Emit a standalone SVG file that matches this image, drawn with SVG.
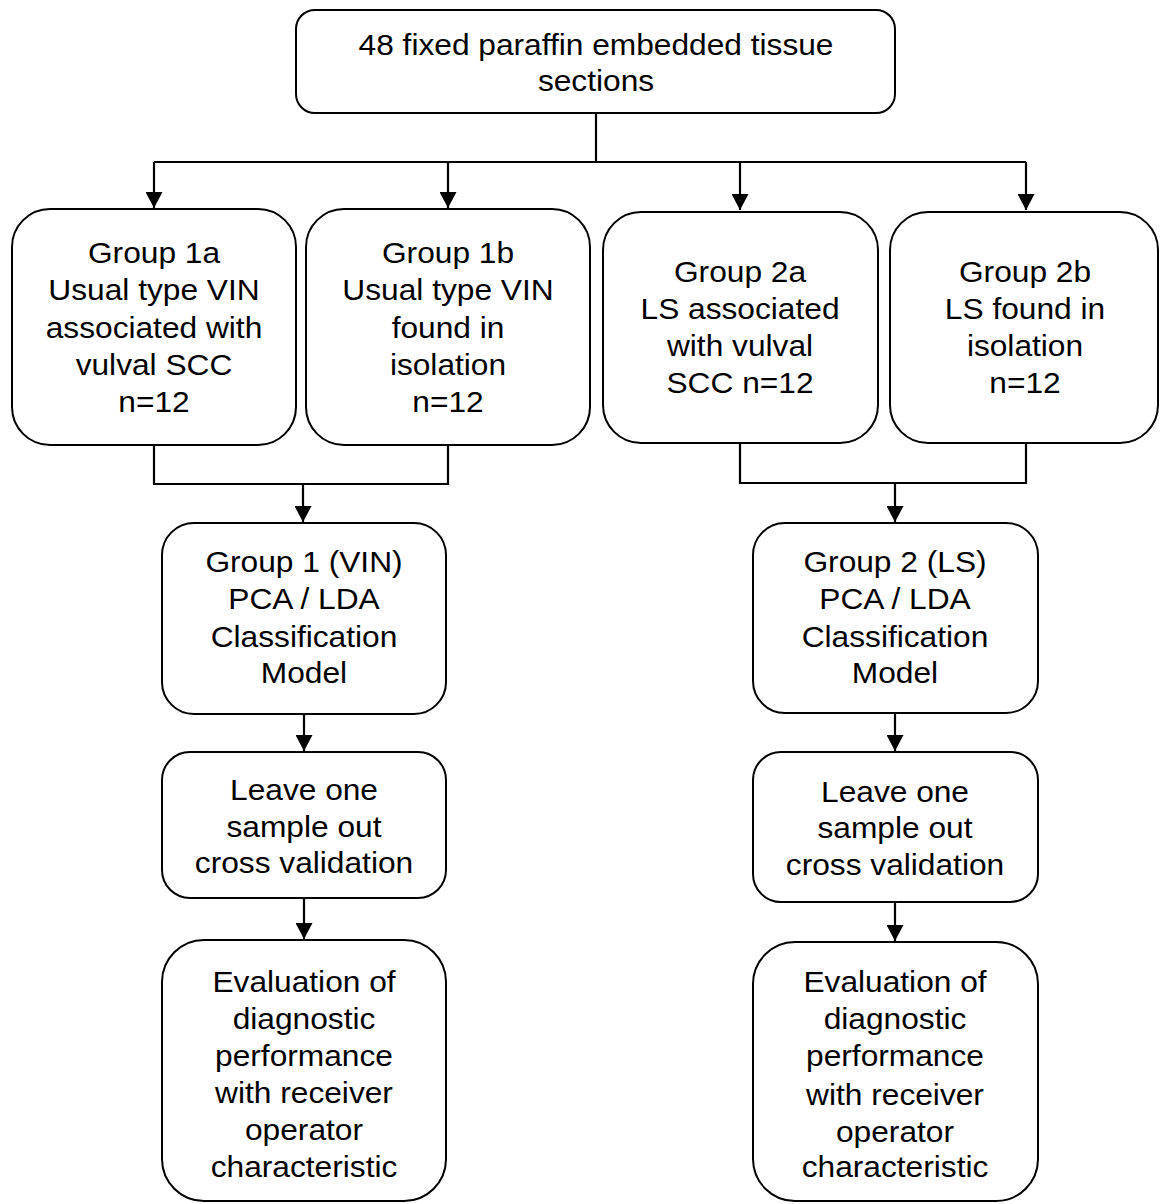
<svg xmlns="http://www.w3.org/2000/svg" width="1161" height="1204" viewBox="0 0 1161 1204">
<style>
.box{fill:#fff;stroke:#000;stroke-width:2}
.t{font-family:"Liberation Sans",Arial,sans-serif;font-size:31.7px;fill:#000;text-anchor:middle}
.c{fill:none;stroke:#000;stroke-width:2.2}
</style>
<defs>
<marker id="arr" markerUnits="userSpaceOnUse" markerWidth="17" markerHeight="17" viewBox="0 0 17 17" refX="16" refY="8.5" orient="auto">
<path d="M0,0 L16,8.5 L0,17 Z" fill="#000"/>
</marker>
</defs>
<rect width="1161" height="1204" fill="#fff"/>
<g id="connectors">
<path class="c" d="M596,113 V162"/>
<path class="c" d="M154,162 H1026"/>
<path class="c" d="M154,162 V208" marker-end="url(#arr)"/>
<path class="c" d="M448,162 V208" marker-end="url(#arr)"/>
<path class="c" d="M740,162 V210" marker-end="url(#arr)"/>
<path class="c" d="M1026,162 V210" marker-end="url(#arr)"/>
<path class="c" d="M154,445 V484 H448 V445"/>
<path class="c" d="M303,484 V522" marker-end="url(#arr)"/>
<path class="c" d="M740,443 V483 H1026 V443"/>
<path class="c" d="M895,483 V522" marker-end="url(#arr)"/>
<path class="c" d="M304,714 V751" marker-end="url(#arr)"/>
<path class="c" d="M895,713 V751" marker-end="url(#arr)"/>
<path class="c" d="M304,898 V939" marker-end="url(#arr)"/>
<path class="c" d="M895,902 V941" marker-end="url(#arr)"/>
</g>
<g id="top">
<rect class="box" x="296" y="10" width="599" height="103" rx="19"/>
<text class="t" transform="translate(596,0) scale(1,0.92)"><tspan x="0" y="59.8">48 fixed paraffin embedded tissue</tspan><tspan x="0" y="98.9">sections</tspan></text>
</g>
<g id="g1a">
<rect class="box" x="12" y="209" width="284" height="236" rx="38"/>
<text class="t" transform="translate(154,0) scale(1,0.92)"><tspan x="0" y="285.9">Group 1a</tspan><tspan x="0" y="326.1">Usual type VIN</tspan><tspan x="0" y="367.4">associated with</tspan><tspan x="0" y="407.6">vulval SCC</tspan><tspan x="0" y="447.8">n=12</tspan></text>
</g>
<g id="g1b">
<rect class="box" x="306" y="209" width="284" height="236" rx="38"/>
<text class="t" transform="translate(448,0) scale(1,0.92)"><tspan x="0" y="285.9">Group 1b</tspan><tspan x="0" y="326.1">Usual type VIN</tspan><tspan x="0" y="367.4">found in</tspan><tspan x="0" y="407.6">isolation</tspan><tspan x="0" y="447.8">n=12</tspan></text>
</g>
<g id="g2a">
<rect class="box" x="603" y="212" width="275" height="231" rx="38"/>
<text class="t" transform="translate(740,0) scale(1,0.92)"><tspan x="0" y="306.5">Group 2a</tspan><tspan x="0" y="346.7">LS associated</tspan><tspan x="0" y="387">with vulval</tspan><tspan x="0" y="427.2">SCC n=12</tspan></text>
</g>
<g id="g2b">
<rect class="box" x="890" y="212" width="268" height="231" rx="38"/>
<text class="t" transform="translate(1025,0) scale(1,0.92)"><tspan x="0" y="306.5">Group 2b</tspan><tspan x="0" y="346.7">LS found in</tspan><tspan x="0" y="387">isolation</tspan><tspan x="0" y="427.2">n=12</tspan></text>
</g>
<g id="g1model">
<rect class="box" x="162" y="523" width="284" height="191" rx="32"/>
<text class="t" transform="translate(304,0) scale(1,0.92)"><tspan x="0" y="621.7">Group 1 (VIN)</tspan><tspan x="0" y="662">PCA / LDA</tspan><tspan x="0" y="703.3">Classification</tspan><tspan x="0" y="742.4">Model</tspan></text>
</g>
<g id="g2model">
<rect class="box" x="753" y="523" width="285" height="190" rx="32"/>
<text class="t" transform="translate(895,0) scale(1,0.92)"><tspan x="0" y="621.7">Group 2 (LS)</tspan><tspan x="0" y="662">PCA / LDA</tspan><tspan x="0" y="703.3">Classification</tspan><tspan x="0" y="742.4">Model</tspan></text>
</g>
<g id="g1loo">
<rect class="box" x="162" y="752" width="284" height="146" rx="28"/>
<text class="t" transform="translate(304,0) scale(1,0.92)"><tspan x="0" y="869.6">Leave one</tspan><tspan x="0" y="909.8">sample out</tspan><tspan x="0" y="948.9">cross validation</tspan></text>
</g>
<g id="g2loo">
<rect class="box" x="753" y="752" width="285" height="150" rx="28"/>
<text class="t" transform="translate(895,0) scale(1,0.92)"><tspan x="0" y="871.7">Leave one</tspan><tspan x="0" y="910.9">sample out</tspan><tspan x="0" y="951.1">cross validation</tspan></text>
</g>
<g id="g1eval">
<rect class="box" x="162" y="940" width="284" height="261" rx="42"/>
<text class="t" transform="translate(304,0) scale(1,0.92)"><tspan x="0" y="1078.3">Evaluation of</tspan><tspan x="0" y="1118.5">diagnostic</tspan><tspan x="0" y="1158.7">performance</tspan><tspan x="0" y="1198.9">with receiver</tspan><tspan x="0" y="1239.1">operator</tspan><tspan x="0" y="1279.3">characteristic</tspan></text>
</g>
<g id="g2eval">
<rect class="box" x="753" y="942" width="285" height="259" rx="42"/>
<text class="t" transform="translate(895,0) scale(1,0.92)"><tspan x="0" y="1078.3">Evaluation of</tspan><tspan x="0" y="1118.5">diagnostic</tspan><tspan x="0" y="1158.7">performance</tspan><tspan x="0" y="1201.1">with receiver</tspan><tspan x="0" y="1241.3">operator</tspan><tspan x="0" y="1279.3">characteristic</tspan></text>
</g>
</svg>
